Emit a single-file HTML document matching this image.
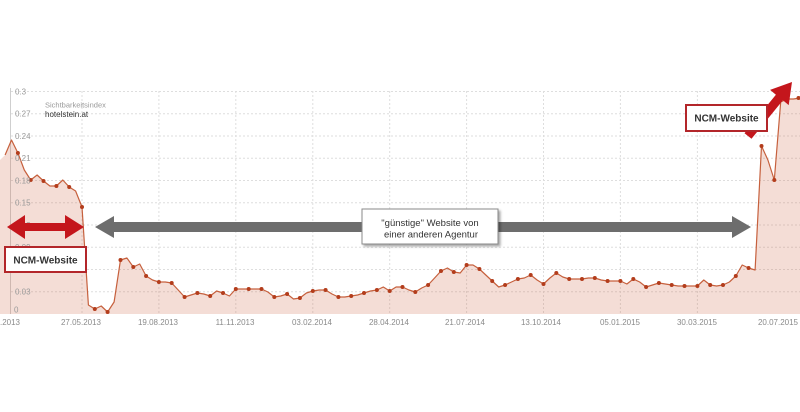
<!DOCTYPE html>
<html><head><meta charset="utf-8"><style>
html,body{margin:0;padding:0;background:#fff;}
svg{display:block;}
text{font-family:"Liberation Sans",Arial,sans-serif;}
</style></head><body>
<svg width="800" height="412" viewBox="0 0 800 412" xmlns="http://www.w3.org/2000/svg">
<defs>
<marker id="d" markerWidth="6" markerHeight="6" refX="3" refY="3" markerUnits="userSpaceOnUse"><circle cx="3" cy="3" r="2" fill="#b33d1c"/></marker>
<filter id="sh" x="-10%" y="-10%" width="130%" height="140%"><feDropShadow dx="2" dy="2" stdDeviation="1.2" flood-color="#000" flood-opacity="0.35"/></filter>
</defs>
<rect width="800" height="412" fill="#fff"/>
<!-- grid -->
<g stroke="#dedede" stroke-width="1" stroke-dasharray="2,2">
<line x1="11" y1="91.5" x2="800" y2="91.5"/>
<line x1="11" y1="113.7" x2="800" y2="113.7"/>
<line x1="11" y1="136" x2="800" y2="136"/>
<line x1="11" y1="158.2" x2="800" y2="158.2"/>
<line x1="11" y1="180.5" x2="800" y2="180.5"/>
<line x1="11" y1="202.7" x2="800" y2="202.7"/>
<line x1="11" y1="225" x2="800" y2="225"/>
<line x1="11" y1="247.2" x2="800" y2="247.2"/>
<line x1="11" y1="269.5" x2="800" y2="269.5"/>
<line x1="11" y1="291.7" x2="800" y2="291.7"/>
<line x1="82" y1="91" x2="82" y2="314"/>
<line x1="158.9" y1="91" x2="158.9" y2="314"/>
<line x1="235.8" y1="91" x2="235.8" y2="314"/>
<line x1="312.8" y1="91" x2="312.8" y2="314"/>
<line x1="389.7" y1="91" x2="389.7" y2="314"/>
<line x1="466.6" y1="91" x2="466.6" y2="314"/>
<line x1="543.5" y1="91" x2="543.5" y2="314"/>
<line x1="620.4" y1="91" x2="620.4" y2="314"/>
<line x1="697.4" y1="91" x2="697.4" y2="314"/>
</g>
<line x1="10.5" y1="88" x2="10.5" y2="314" stroke="#cfcfcf" stroke-width="1"/>
<!-- area -->
<polygon fill="rgba(205,100,70,0.22)" points="0,314 0,160 5.1,155 11.5,140 17.9,153 24.3,170 30.7,180 37.1,175 43.5,181 49.9,186 56.4,186 62.8,180 69.2,187 75.6,191 82,207 88.4,305 94.8,309 101.2,306 107.6,312 114.1,302 120.5,260 126.9,258 133.3,267 139.7,264 146.1,276 152.5,280 158.9,282 165.3,282 171.7,283 178.2,290 184.6,297 191,295 197.4,293 203.8,294 210.2,296 216.6,291 223,293 229.4,296 235.8,289 242.3,289 248.7,289 255.1,289 261.5,289 267.9,292 274.3,297 280.7,296 287.1,294 293.5,299 299.9,298 306.4,293 312.8,291 319.2,290 325.6,290 332,294 338.4,297 344.8,297 351.2,296 357.6,295 364,293 370.5,291 376.9,290 383.3,287 389.7,291 396.1,287 402.5,287 408.9,290 415.3,292 421.7,288 428.1,285 434.6,278 441,271 447.4,268 453.8,272 460.2,273 466.6,265 473,265 479.4,269 485.8,275 492.2,281 498.7,287 505.1,285 511.5,282 517.9,279 524.3,278 530.7,275 537.1,280 543.5,284 549.9,278 556.3,273 562.8,277 569.2,279 575.6,279 582,279 588.4,278 594.8,278 601.2,280 607.6,281 614,281 620.4,281 626.9,284 633.3,279 639.7,282 646.1,287 652.5,285 658.9,283 665.3,284 671.7,285 678.1,286 684.5,286 691,286 697.4,286 703.8,280 710.2,285 716.6,286 723,285 729.4,282 735.8,276 742.2,265 748.6,268 755.1,270 761.5,146 767.9,160 774.3,180 780.7,102 787.1,99 793.5,99 800,98 800,314"/>
<polyline fill="none" stroke="#c6603d" stroke-width="1.2" stroke-linejoin="round" points="5.1,155 11.5,140 17.9,153 24.3,170 30.7,180 37.1,175 43.5,181 49.9,186 56.4,186 62.8,180 69.2,187 75.6,191 82,207 88.4,305 94.8,309 101.2,306 107.6,312 114.1,302 120.5,260 126.9,258 133.3,267 139.7,264 146.1,276 152.5,280 158.9,282 165.3,282 171.7,283 178.2,290 184.6,297 191,295 197.4,293 203.8,294 210.2,296 216.6,291 223,293 229.4,296 235.8,289 242.3,289 248.7,289 255.1,289 261.5,289 267.9,292 274.3,297 280.7,296 287.1,294 293.5,299 299.9,298 306.4,293 312.8,291 319.2,290 325.6,290 332,294 338.4,297 344.8,297 351.2,296 357.6,295 364,293 370.5,291 376.9,290 383.3,287 389.7,291 396.1,287 402.5,287 408.9,290 415.3,292 421.7,288 428.1,285 434.6,278 441,271 447.4,268 453.8,272 460.2,273 466.6,265 473,265 479.4,269 485.8,275 492.2,281 498.7,287 505.1,285 511.5,282 517.9,279 524.3,278 530.7,275 537.1,280 543.5,284 549.9,278 556.3,273 562.8,277 569.2,279 575.6,279 582,279 588.4,278 594.8,278 601.2,280 607.6,281 614,281 620.4,281 626.9,284 633.3,279 639.7,282 646.1,287 652.5,285 658.9,283 665.3,284 671.7,285 678.1,286 684.5,286 691,286 697.4,286 703.8,280 710.2,285 716.6,286 723,285 729.4,282 735.8,276 742.2,265 748.6,268 755.1,270 761.5,146 767.9,160 774.3,180 780.7,102 787.1,99 793.5,99 800,98"/>
<polyline fill="none" stroke="none" marker-start="url(#d)" marker-mid="url(#d)" marker-end="url(#d)" points="17.9,153 30.7,180 43.5,181 56.4,186 69.2,187 82,207 94.8,309 107.6,312 120.5,260 133.3,267 146.1,276 158.9,282 171.7,283 184.6,297 197.4,293 210.2,296 223,293 235.8,289 248.7,289 261.5,289 274.3,297 287.1,294 299.9,298 312.8,291 325.6,290 338.4,297 351.2,296 364,293 376.9,290 389.7,291 402.5,287 415.3,292 428.1,285 441,271 453.8,272 466.6,265 479.4,269 492.2,281 505.1,285 517.9,279 530.7,275 543.5,284 556.3,273 569.2,279 582,279 594.8,278 607.6,281 620.4,281 633.3,279 646.1,287 658.9,283 671.7,285 684.5,286 697.4,286 710.2,285 723,285 735.8,276 748.6,268 761.5,146 774.3,180 787.1,99 798.5,98"/>
<!-- y labels -->
<g font-size="8" fill="#9a9a9a">
<text x="15" y="94.5">0.3</text>
<text x="15" y="116.7">0.27</text>
<text x="15" y="139">0.24</text>
<text x="15" y="161.2">0.21</text>
<text x="15" y="183.5">0.18</text>
<text x="15" y="205.7">0.15</text>
<text x="15" y="228">0.12</text>
<text x="15" y="250.2">0.09</text>
<text x="15" y="272.5">0.06</text>
<text x="15" y="294.7">0.03</text>
<text x="14" y="312.5">0</text>
</g>
<!-- x labels -->
<g font-size="8" fill="#8a8a8a" text-anchor="middle">
<text x="20" y="325" text-anchor="end">04.03.2013</text>
<text x="81" y="325">27.05.2013</text>
<text x="158" y="325">19.08.2013</text>
<text x="235" y="325">11.11.2013</text>
<text x="312" y="325">03.02.2014</text>
<text x="389" y="325">28.04.2014</text>
<text x="465" y="325">21.07.2014</text>
<text x="541" y="325">13.10.2014</text>
<text x="620" y="325">05.01.2015</text>
<text x="697" y="325">30.03.2015</text>
<text x="798" y="325" text-anchor="end">20.07.2015</text>
</g>
<!-- header -->
<text x="45" y="107.5" font-size="7.5" fill="#9a9a9a">Sichtbarkeitsindex</text>
<text x="45" y="117" font-size="8" fill="#333">hotelstein.at</text>
<!-- gray arrow -->
<polygon fill="#6d6d6d" points="95,227 114,216 114,222 732,222 732,216 751,227 732,238 732,232 114,232 114,238"/>
<rect x="362" y="209" width="136" height="35" fill="#fff" stroke="#8a8a8a" stroke-width="1" filter="url(#sh)"/>
<g font-size="9.5" fill="#333" text-anchor="middle">
<text x="430" y="226">"günstige" Website von</text>
<text x="431" y="237.5">einer anderen Agentur</text>
</g>
<!-- left red double arrow -->
<polygon fill="#c4161c" points="7,227 25,215 25,223 65,223 65,215 84,227 65,239 65,231 25,231 25,239"/>
<rect x="5" y="247" width="81" height="25" fill="#fff" stroke="#b3262a" stroke-width="2"/>
<text x="45.5" y="263.5" font-size="10" font-weight="bold" fill="#333" text-anchor="middle">NCM-Website</text>
<!-- right red arrow -->
<polygon fill="#c4161c" points="744.5,133.2 775.9,94.7 770.1,89.9 792,82 788.7,105.1 782.9,100.3 751.5,138.8"/>
<rect x="686" y="105" width="81" height="26" fill="#fff" stroke="#b3262a" stroke-width="2"/>
<text x="726.5" y="121.5" font-size="10" font-weight="bold" fill="#333" text-anchor="middle">NCM-Website</text>
</svg>
</body></html>
